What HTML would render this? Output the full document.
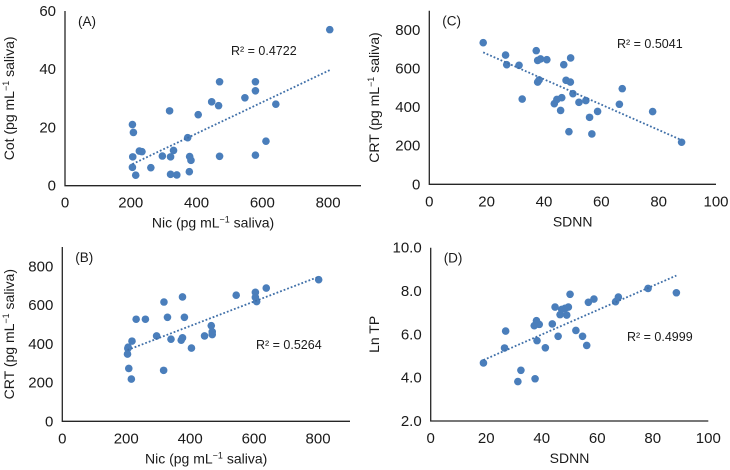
<!DOCTYPE html>
<html><head><meta charset="utf-8">
<style>
html,body{margin:0;padding:0;background:#fff;}
svg{display:block;font-family:"Liberation Sans",Arial,sans-serif;}
</style></head>
<body>
<svg id="chart" width="730" height="470" viewBox="0 0 730 470"></svg>
<script>
// Panel A data: Nic vs Cot
const nicA = [805,205,208,206,205,215,226,234,261,296,318,321,321,330,340,373,379,383,378,405,446,467,470,470,547,579,579,579,611,641];
const cotA = [53.6,21,18.3,9.9,6.3,3.6,11.9,11.7,6.2,10.2,25.7,9.9,3.9,12.1,3.7,16.5,10,8.7,4.8,24.4,28.8,27.5,35.7,10.1,30.2,35.7,32.6,10.5,15.3,28];
// Panel B data: Nic vs CRT
const nicB = [802,205,206,204,208,216,218,231,260,295,318,317,329,340,372,376,376,382,404,445,466,469,469,544,604,604,608,638];
const crtB = [731,376,383,347,273,218,414,527,527,441,616,263,537,424,419,431,642,537,378,441,494,462,448,651,666,640,618,688];
// Panel C data: SDNN vs CRT
const sdnnC = [18.8,26.6,27,31.3,32.4,37.3,37.8,38.8,41,37.8,38.3,43.6,44.5,46.2,45.8,46.9,47.7,49.2,49.3,48.7,50.1,52.2,54.6,55.9,56.7,58.7,66.3,67.3,77.9,88];
const crtC = [734,670,620,617,442,693,642,650,646,530,541,418,440,449,383,620,539,530,655,273,470,425,434,347,261,378,415,496,377,218];
// Panel D data: SDNN vs Ln TP
const sdnnD = [19,26.6,27,31.4,32.5,37.6,37.3,38.1,38.3,39.1,41.3,43.8,44.8,45.9,46.6,47.2,48.4,49,49.6,50.2,52.3,54.7,56.2,56.8,58.8,66.6,67.6,78.3,88.5];
const lntpD = [4.68,5.37,6.15,3.82,4.34,3.95,6.4,6.63,5.71,6.46,5.38,6.48,7.26,5.91,6.91,7.15,7.2,6.89,7.26,7.85,6.18,5.91,5.49,7.48,7.63,7.51,7.72,8.12,7.92];
const ticksNic = [0,200,400,600,800];
const ticksSDNN = [0,20,40,60,80,100];
const ticksCot = [0,20,40,60];
const ticksCRT = [0,200,400,600,800];
const ticksLnTP = [2,4,6,8,10];

const NS="http://www.w3.org/2000/svg";
const svg=document.getElementById('chart');
function mk(tag,attrs,parent){const e=document.createElementNS(NS,tag);for(const k in attrs)e.setAttribute(k,attrs[k]);(parent||svg).appendChild(e);return e;}

function panel(p){
  const g=mk('g',{});
  
  
  const sx=v=>p.x0+(v-p.xmin)/(p.xmax-p.xmin)*(p.x1-p.x0);
  const sy=v=>p.y0-(v-p.ymin)/(p.ymax-p.ymin)*(p.y0-p.y1);
  const ax=mk('path',{d:`M${p.x0},${p.y1} V${p.y0} H${p.x1}`,fill:'none',stroke:'#262626','stroke-width':1.3},g);
  
  
  p.xt.forEach(t=>{
    const e=mk('text',{x:sx(t),y:p.y0+22,'text-anchor':'middle','font-size':15,fill:'#1a1a1a'},g);
    e.textContent=t;
    
    
  });
  p.yt.forEach(t=>{
    const e=mk('text',{x:p.x0-9,y:sy(t)+5,'text-anchor':'end','font-size':15,fill:'#1a1a1a'},g);
    e.textContent=p.yfmt?t.toFixed(1):t;
    
    
  });
  const xt=mk('text',{x:(p.x0+p.x1)/2,y:p.y0+42,'text-anchor':'middle','font-size':14,fill:'#1a1a1a'},g);
  xt.innerHTML=p.xlabel;
  
  
  const yc=(p.y0+p.y1)/2;
  const yt=mk('text',{x:p.ylx,y:yc,'text-anchor':'middle','font-size':14,fill:'#1a1a1a',transform:`rotate(-90 ${p.ylx} ${yc})`},g);
  yt.innerHTML=p.ylabel;
  
  
  const lb=mk('text',{x:p.x0+13,y:p.y1+15,'font-size':13.5,fill:'#1a1a1a'},g);
  lb.textContent='('+p.id+')';
  
  
  const n=p.xs.length;let mx=0,my=0;for(let i=0;i<n;i++){mx+=p.xs[i];my+=p.ys[i];}mx/=n;my/=n;
  let sxy=0,sxx=0;for(let i=0;i<n;i++){sxy+=(p.xs[i]-mx)*(p.ys[i]-my);sxx+=(p.xs[i]-mx)**2;}
  const b=sxy/sxx,a=my-b*mx;const xa=Math.min(...p.xs),xb=Math.max(...p.xs);
  p.xs.forEach((v,i)=>{
    const c=mk('circle',{cx:sx(v),cy:sy(p.ys[i]),r:3.8,fill:'#4a7ebb'},g);
    
    
  });
  const tl=mk('line',{x1:sx(xa),y1:sy(a+b*xa),x2:sx(xb),y2:sy(a+b*xb),stroke:'#3f6fa8','stroke-width':1.8,'stroke-dasharray':'1.8 2'},g);
  
  
  const r=mk('text',{x:p.rx,y:p.ry,'font-size':12.5,fill:'#1a1a1a'},g);
  r.textContent=p.r2;
  
  
}
const nicLbl='Nic (pg mL<tspan dy="-5" font-size="9">−1</tspan><tspan dy="5"> saliva)</tspan>';
const crtLbl='CRT (pg mL<tspan dy="-5" font-size="9">−1</tspan><tspan dy="5"> saliva)</tspan>';
const cotLbl='Cot (pg mL<tspan dy="-5" font-size="9">−1</tspan><tspan dy="5"> saliva)</tspan>';
panel({id:'A',x0:65,x1:361,y0:185.7,y1:11,xmin:0,xmax:900,ymin:0,ymax:60,xt:ticksNic,yt:ticksCot,xs:nicA,ys:cotA,xlabel:nicLbl,ylabel:cotLbl,ylx:14,rx:231,ry:55,r2:'R² = 0.4722'});
panel({id:'C',x0:429.3,x1:716,y0:184.3,y1:10.7,xmin:0,xmax:100,ymin:0,ymax:900,xt:ticksSDNN,yt:ticksCRT,xs:sdnnC,ys:crtC,xlabel:'SDNN',ylabel:crtLbl,ylx:379,rx:617,ry:48,r2:'R² = 0.5041'});
panel({id:'B',x0:62.3,x1:350,y0:421.3,y1:247,xmin:0,xmax:900,ymin:0,ymax:900,xt:ticksNic,yt:ticksCRT,xs:nicB,ys:crtB,xlabel:nicLbl,ylabel:crtLbl,ylx:14,rx:256,ry:349,r2:'R² = 0.5264'});
panel({id:'D',x0:430.7,x1:708.3,y0:421,y1:247.7,xmin:0,xmax:100,ymin:2,ymax:10,xt:ticksSDNN,yt:ticksLnTP,yfmt:true,xs:sdnnD,ys:lntpD,xlabel:'SDNN',ylabel:'Ln TP',ylx:379,rx:627,ry:341,r2:'R² = 0.4999'});
</script>
</body></html>
